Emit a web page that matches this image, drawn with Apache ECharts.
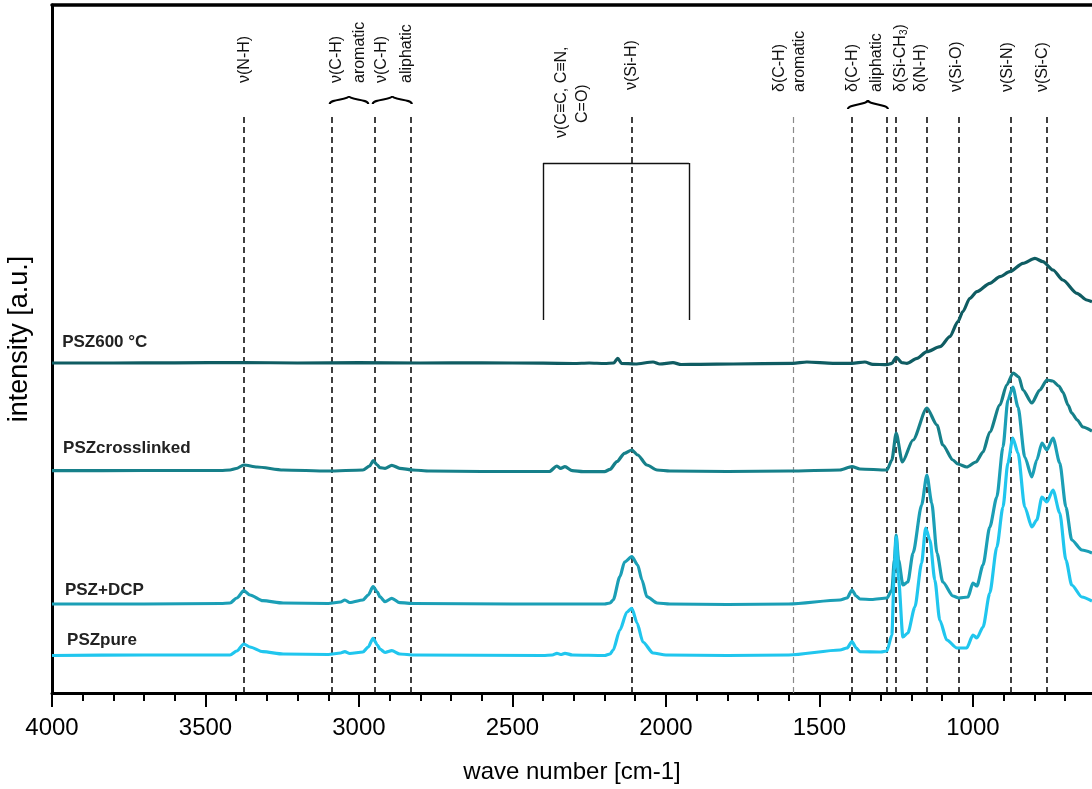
<!DOCTYPE html>
<html><head><meta charset="utf-8">
<script src="https://cdn.jsdelivr.net/npm/echarts@6/dist/echarts.min.js"></script>
<style>html,body{margin:0;padding:0;background:#fff}#c{width:1092px;height:789px}</style>
</head><body><div id="c"></div>
<script>
// ---- data: [wavenumber (cm-1), intensity (a.u., offset stacked)] ----
const psz600 = [[4000,330],[3800,330],[3600,330.2],[3375,330.5],[3200,330],[3000,330.3],[2800,330],[2600,330.2],[2400,329.8],[2300,329.5],[2250,330],[2200,329.5],[2170,330],[2157,334.7],[2145,329.7],[2100,329],[2042,331],[2020,329],[1977,330.3],[1950,328.5],[1889,328.7],[1781,329],[1586,329.7],[1541,331],[1456,329.7],[1394,329.7],[1352,331],[1326,328.7],[1280,328.3],[1264,329.7],[1250,335.7],[1231,330.3],[1215,329.7],[1182,334.7],[1150,341.3],[1107,346.3],[1075,356.3],[1049,371.3],[1033,381.3],[1010,394.7],[987,401.3],[945,409.7],[912,416.3],[880,421.3],[837,429.7],[798,434.7],[772,431.3],[739,423],[707,413],[661,399.7],[629,393],[612,391.3]];
const pszCrosslinked = [[4000,222.3],[3700,222.5],[3450,222.5],[3420,223],[3400,224.5],[3375,228],[3332,226],[3247,223],[3100,222],[2987,223],[2965,227],[2954,232.3],[2940,228],[2932,225.3],[2915,224.7],[2893,227.7],[2867,224.7],[2825,223],[2770,222],[2600,221.5],[2380,221.5],[2355,227],[2343,224.7],[2329,226.3],[2305,222.3],[2270,221.3],[2200,221.3],[2182,223.7],[2160,231.3],[2135,239.7],[2111,243],[2092,238],[2062,228],[2029,223],[1987,222],[1800,221.5],[1600,222],[1433,223],[1394,226.3],[1368,224],[1280,223],[1264,233],[1250,260],[1230,231],[1195,253],[1150,285],[1117,268],[1098,248],[1065,233],[1049,229],[1020,226],[990,231],[967,241],[945,261],[912,288],[890,308],[869,320],[850,316],[837,303],[808,290],[782,303],[759,313],[740,312],[720,307],[707,301],[690,288],[678,280],[660,273],[642,266],[612,262]];
const pszDCP = [[4000,89],[3700,89],[3450,89.5],[3420,90],[3398,95],[3375,102.3],[3355,98],[3313,92.3],[3247,90],[3100,89.5],[3060,91],[3046,93],[3030,90.5],[2987,93],[2970,98],[2954,106.3],[2940,101],[2932,96.3],[2915,91.3],[2893,94.7],[2867,90.3],[2820,89.5],[2500,89],[2360,89],[2200,89],[2182,90],[2172,93],[2150,116.3],[2135,131],[2111,136.3],[2092,128],[2078,113],[2062,96.3],[2029,90],[1987,89],[1800,88.5],[1600,89],[1433,93],[1410,95],[1394,103],[1380,97],[1368,94],[1330,93.5],[1280,95],[1264,103],[1256,133],[1250,158],[1242,133],[1228,108],[1212,111],[1195,140],[1167,188],[1150,218],[1134,190],[1117,140],[1098,111],[1065,97],[1046,95],[1016,96],[1000,110],[987,107],[967,128],[945,166],[922,196],[902,246],[886,293],[870,306],[853,286],[831,236],[808,216],[792,233],[775,250],[759,243],[739,255],[717,230],[697,186],[678,153],[645,143],[612,140]];
const pszPure = [[4000,37.5],[3700,38],[3420,38],[3398,42],[3375,49],[3355,46],[3313,41.3],[3247,39],[3100,38.5],[3060,40],[3046,41.3],[3030,39.5],[2987,41],[2970,46],[2954,54.7],[2940,48],[2932,44],[2915,40.5],[2893,42.3],[2867,39],[2820,38],[2400,37.5],[2370,38],[2355,39.7],[2343,38.5],[2329,39.7],[2305,38],[2200,37.5],[2182,39],[2172,43],[2150,63],[2127,81],[2111,84.7],[2094,70],[2075,51],[2042,40],[2000,38],[1800,37.5],[1600,38],[1433,43],[1410,45],[1394,51.3],[1380,45],[1368,41.3],[1300,41],[1280,42],[1264,58],[1256,123],[1250,156],[1242,113],[1228,56],[1212,60],[1189,86],[1167,130],[1154,165],[1140,153],[1124,113],[1108,73],[1085,53],[1052,45],[1020,45],[1000,58],[987,55],[967,66],[945,100],[922,146],[902,186],[886,230],[870,255],[853,240],[831,186],[808,166],[792,173],[775,196],[759,191],[739,203],[717,180],[697,133],[678,108],[645,96],[612,92]];

const seriesNames = ['PSZ600 °C','PSZcrosslinked','PSZ+DCP','PSZpure'];
const seriesColors = ['#0f5c62','#16808a','#1b9fb6','#20c6ee'];
const majorTicks = [4000,3500,3000,2500,2000,1500,1000];
const minorTicks = [3900,3800,3700,3600,3400,3300,3200,3100,2900,2800,2700,2600,2400,2300,2200,2100,1900,1800,1700,1600,1400,1300,1200,1100,900,800,700];
const xRange = [612,4000];
// band assignment positions (cm-1)
const bandLines = [3375,3090,2950,2830,2110,1585,1395,1280,1250,1150,1045,878,760];
const bandLineTop = 578;
const bracketRange = [2400,1925];
const bracketLevels = [373,530];
const braces = [[3095,2970],[2955,2828],[1407,1277]];
const annotations = [
  {t:'ν(N-H)', wn:3371, b:83},
  {t:'ν(C-H)', wn:3073, b:83},
  {t:'aromatic', wn:2997, b:83},
  {t:'ν(C-H)', wn:2926, b:83},
  {t:'aliphatic', wn:2845, b:83},
  {t:'ν(C≡C, C≡N,', wn:2340, b:138},
  {t:'C=O)', wn:2270, b:123},
  {t:'ν(Si-H)', wn:2112, b:90},
  {t:'δ(C-H)', wn:1629, b:92},
  {t:'aromatic', wn:1564, b:92},
  {t:'δ(C-H)', wn:1391, b:92},
  {t:'aliphatic', wn:1313, b:92},
  {t:'δ(Si-CH{s|3})', wn:1236, b:92},
  {t:'δ(N-H)', wn:1170, b:92},
  {t:'ν(Si-O)', wn:1053, b:92},
  {t:'ν(Si-N)', wn:886, b:92},
  {t:'ν(Si-C)', wn:772, b:92}
];
const sampleLabelAnchors = [[3967,351],[3964,245],[3958,103],[3951,53]];

const FONT = "'Liberation Sans', Arial, sans-serif";
const chart = echarts.init(document.getElementById('c'), null, {renderer:'canvas'});

const dashed = bandLines.map(w => [
  {coord:[w,0], lineStyle: w===1585 ? {color:'#8a8a8a', width:1.2, type:[6,4]} : undefined},
  {coord:[w,bandLineTop]}
]);
const bracket = [
  [{coord:[bracketRange[0],bracketLevels[0]]},{coord:[bracketRange[0],bracketLevels[1]]}],
  [{coord:[bracketRange[0],bracketLevels[1]]},{coord:[bracketRange[1],bracketLevels[1]]}],
  [{coord:[bracketRange[1],bracketLevels[1]]},{coord:[bracketRange[1],bracketLevels[0]]}]
].map(seg => { seg[0].lineStyle = {type:'solid', width:1.4, color:'#111'}; return seg; });

const dataSets = [psz600, pszCrosslinked, pszDCP, pszPure];
const series = dataSets.map((d,i) => ({
  name: seriesNames[i], type:'line', data:d, symbol:'none', smooth:0.25, smoothMonotone:'x',
  xAxisIndex:0, yAxisIndex:0,
  lineStyle:{color:seriesColors[i], width:3.2}, itemStyle:{color:seriesColors[i]}, z: 3,
  animation:false
}));
series[0].markLine = {
  silent:true, symbol:['none','none'], animation:false, z:2,
  label:{show:false},
  lineStyle:{color:'#111', width:1.6, type:[6,4]},
  data: dashed.concat(bracket)
};

const baseX = {type:'value', inverse:true, min:xRange[0], max:xRange[1], gridIndex:0, splitLine:{show:false}};
chart.setOption({
  animation:false,
  grid:{left:52, top:5, bottom:96, right:0, show:false, containLabel:false, outerBoundsMode:'none'},
  xAxis:[
    Object.assign({}, baseX, {
      position:'bottom',
      axisLine:{lineStyle:{color:'#000', width:3}},
      axisTick:{show:true, inside:false, length:14, customValues:majorTicks, lineStyle:{color:'#000', width:2}},
      axisLabel:{color:'#000', fontFamily:FONT, fontSize:24, margin:23, customValues:majorTicks, formatter: v => String(v)},
      name:'wave number [cm-1]', nameLocation:'middle', nameGap:67,
      nameTextStyle:{color:'#000', fontFamily:FONT, fontSize:24}
    }),
    Object.assign({}, baseX, {
      position:'bottom',
      axisLine:{show:false},
      axisTick:{show:true, inside:false, length:8, customValues:minorTicks, lineStyle:{color:'#000', width:2}},
      axisLabel:{show:false}
    }),
    Object.assign({}, baseX, {
      position:'top',
      axisLine:{show:true, lineStyle:{color:'#000', width:3.5}},
      axisTick:{show:false}, axisLabel:{show:false}
    })
  ],
  yAxis:{
    type:'value', min:0, max:688,
    axisLine:{show:true, lineStyle:{color:'#000', width:3}},
    axisTick:{show:false}, axisLabel:{show:false}, splitLine:{show:false},
    name:'intensity [a.u.]', nameLocation:'middle', nameGap:19,
    nameTextStyle:{color:'#000', fontFamily:FONT, fontSize:27, padding:[0,0,0,20]}
  },
  series: series
});

// overlay annotations positioned through the axes
const px = (w,v) => chart.convertToPixel({xAxisIndex:0, yAxisIndex:0}, [w,v]);
const graphics = [];
annotations.forEach(a => {
  const x = px(a.wn,0)[0];
  graphics.push({type:'text', x:x, y:a.b, rotation:Math.PI/2, z:10,
    style:{text:a.t, fill:'#111', font:'16px '+FONT, align:'left', verticalAlign:'middle',
      rich:{s:{fontSize:10, fontFamily:FONT, fill:'#111', verticalAlign:'bottom', padding:[8,0,0,0]}}}});
});
const braceY = [[104,99,96],[104,99,96],[109,104,100]];
braces.forEach((b,i) => {
  const x1 = px(b[0],0)[0], x2 = px(b[1],0)[0], xm = (x1+x2)/2;
  const [ye, yf, yc] = braceY[i];
  [[x1,xm],[x2,xm]].forEach(([xs,xe]) => {
    graphics.push({type:'bezierCurve', z:10,
      shape:{x1:xs, y1:ye, cpx1:xs, cpy1:yf, cpx2:xe, cpy2:yf+1, x2:xe, y2:yc},
      style:{fill:null, stroke:'#000', lineWidth:2.2}});
  });
});
sampleLabelAnchors.forEach((a,i) => {
  const p = px(a[0], a[1]);
  graphics.push({type:'text', x:p[0], y:p[1], z:10,
    style:{text:seriesNames[i], fill:'#222', font:'bold 17px '+FONT, align:'left', verticalAlign:'middle'}});
});
chart.setOption({graphic: graphics});
</script></body></html>
